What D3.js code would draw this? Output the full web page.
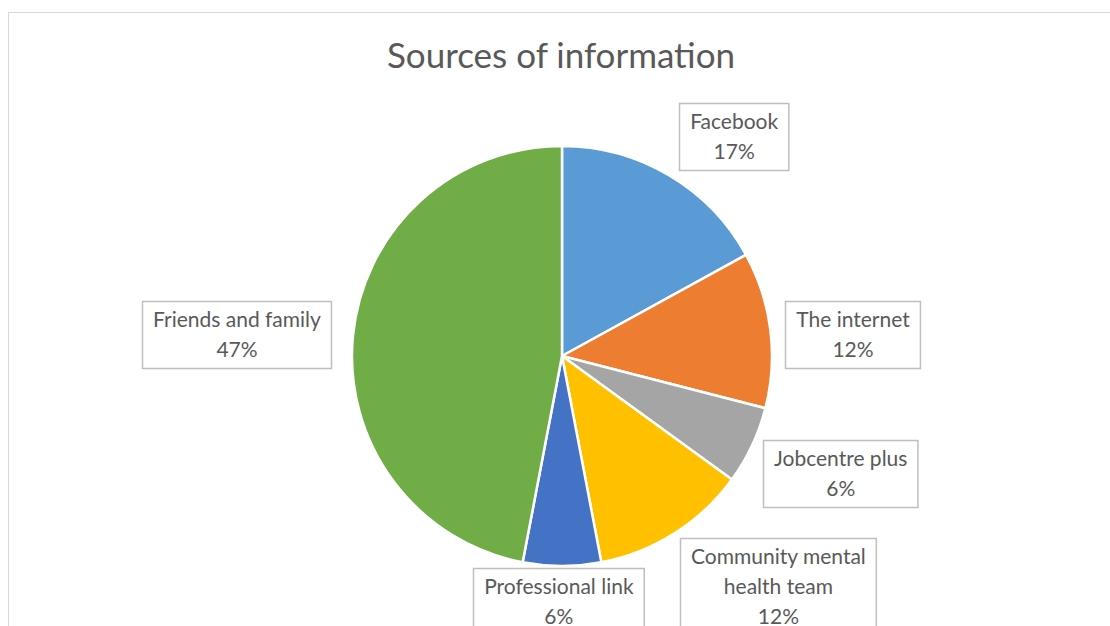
<!DOCTYPE html>
<html>
<head>
<meta charset="utf-8">
<script src="https://cdn.jsdelivr.net/npm/d3@7"></script>
<style>
  html, body { margin: 0; padding: 0; background: #fff; }
  svg { display: block; }
  text { font-family: Lato, "Open Sans", sans-serif; fill: #595959; }
</style>
</head>
<body>
<svg id="chart" width="1110" height="626"></svg>
<script>
// Share of respondents per source of information (%)
const categories = ["Facebook", "The internet", "Jobcentre plus", "Community mental health team", "Professional link", "Friends and family"];
const shares = [17, 12, 6, 12, 6, 47];
const colors = ["#5B9BD5", "#ED7D31", "#A5A5A5", "#FFC000", "#4472C4", "#70AD47"];
// Label lines as they wrap inside each callout box
const labelLines = [["Facebook"], ["The internet"], ["Jobcentre plus"], ["Community mental", "health team"], ["Professional link"], ["Friends and family"]];
// Top-left corners of the callout boxes
const labelBoxes = [[679, 103], [785, 301], [763, 440], [680, 538], [473, 568], [142, 301]];

const svg = d3.select("#chart");
const W = 1110, H = 626;

// chart area frame
svg.append("rect")
  .attr("x", 8.5).attr("y", 12.5)
  .attr("width", W + 10).attr("height", H + 10)
  .attr("fill", "#fff").attr("stroke", "#d9d9d9").attr("stroke-width", 1);

svg.append("text")
  .attr("x", 561).attr("y", 68)
  .attr("text-anchor", "middle")
  .attr("font-size", 35)
  .text("Sources of information");

const cx = 562, cy = 356, R = 210;
const total = d3.sum(shares);
const data = categories.map((c, i) => ({ name: c, value: shares[i], color: colors[i], lines: labelLines[i], box: labelBoxes[i] }));

const pie = d3.pie().value(d => d.value).sort(null);
const arc = d3.arc().innerRadius(0).outerRadius(R);

const g = svg.append("g").attr("transform", `translate(${cx},${cy})`);
g.selectAll("path")
  .data(pie(data))
  .join("path")
  .attr("d", arc)
  .attr("fill", d => d.data.color)
  .attr("stroke", "#fff")
  .attr("stroke-width", 2.5)
  .attr("stroke-linejoin", "round");

// callouts
const fs = 21, lh = 30, padX = 10.5;
data.forEach(d => {
  const lines = d.lines.concat([Math.round(d.value / total * 100) + "%"]);
  const lg = svg.append("g");
  const rect = lg.append("rect")
    .attr("fill", "#fff").attr("stroke", "#bfbfbf").attr("stroke-width", 1.5);
  const t = lg.append("text").attr("font-size", fs).attr("text-anchor", "middle");
  lines.forEach((s, k) => {
    t.append("tspan").attr("x", 0).attr("y", 26 + k * lh).text(s);
  });
  const bw = t.node().getBBox().width + 2 * padX;
  const bh = lines.length * lh + 7;
  const [x0, y0] = d.box;
  rect.attr("x", x0 + 0.5).attr("y", y0 + 0.5).attr("width", bw).attr("height", bh);
  t.attr("transform", `translate(${x0 + 0.5 + bw / 2},${y0})`);
});
</script>
</body>
</html>
